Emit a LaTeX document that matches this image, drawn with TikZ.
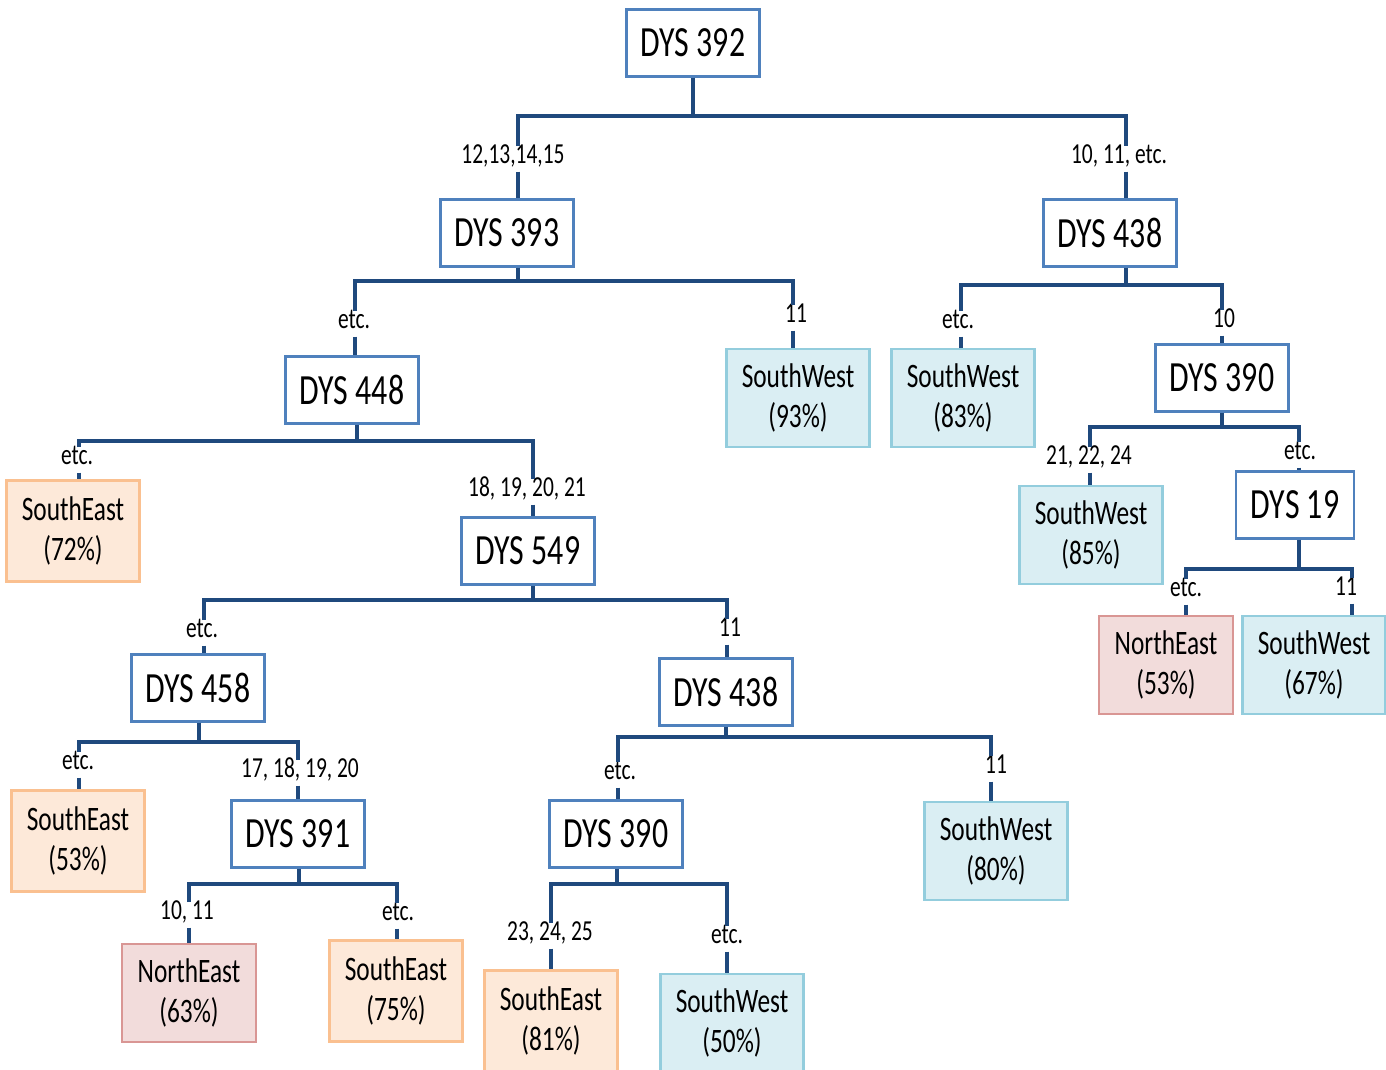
\documentclass[tikz,border=0pt]{standalone}
\usepackage{fontspec}
\setmainfont{Carlito}[FakeStretch=0.74]
\definecolor{linkc}{RGB}{31,73,125}
\definecolor{boxblue}{RGB}{79,129,189}
\definecolor{swfill}{RGB}{218,238,243}
\definecolor{swdraw}{RGB}{147,205,221}
\definecolor{sefill}{RGB}{253,233,217}
\definecolor{sedraw}{RGB}{250,192,144}
\definecolor{nefill}{RGB}{242,220,219}
\definecolor{nedraw}{RGB}{217,150,148}
\tikzset{
  link/.style={draw=linkc, line width=2.2pt, line join=miter},
  dys/.style={draw=boxblue, line width=1.2pt, fill=white, minimum width=2.66cm, minimum height=1.34cm, inner sep=0pt, font=\fontsize{24.5}{29}\selectfont},
  leaf/.style={line width=1.4pt, minimum height=1.96cm, inner sep=0pt, align=center, font=\fontsize{19.5}{22.5}\selectfont},
  sw/.style={leaf, draw=swdraw, fill=swfill, minimum width=2.86cm},
  se/.style={leaf, draw=sedraw, fill=sefill, minimum width=2.66cm, minimum height=2.02cm},
  ne/.style={leaf, draw=nedraw, fill=nefill, minimum width=2.68cm},
  lbl/.style={inner sep=2.5pt, yshift=-2.2pt, text height=0.7em, text depth=0.2em, font=\fontsize{16.5}{18}\selectfont},
}
\newcommand{\treesplit}[9]{%
  \coordinate (#1-L) at (#4,#3);
  \coordinate (#1-R) at (#5,#3);
  \coordinate (#1-S) at (#2,#3);
  \draw[link] (#1.south -| #1-S) -- (#1-S);
  \draw[link] (#1-L |- #6.north) -- (#1-L) -- (#1-R) -- (#1-R |- #8.north);
  \draw[link] (#1-L |- #6.south) -- (#1-L |- #7.north);
  \draw[link] (#1-R |- #8.south) -- (#1-R |- #9.north);
}
\begin{document}
\begin{tikzpicture}[x=0.02cm, y=-0.02cm]
\useasboundingbox[fill=white] (0,0) rectangle (1386,1070);
% nodes
\node[dys] (n392) at (693,43) {DYS 392};
\node[dys] (n393) at (507,233) {DYS 393};
\node[dys] (n438a) at (1110,233) {DYS 438};
\node[dys] (n448) at (352,390) {DYS 448};
\node[sw] (sw93) at (798,398) {SouthWest\\(93\%)};
\node[sw] (sw83) at (963,398) {SouthWest\\(83\%)};
\node[dys] (n390a) at (1222,378) {DYS 390};
\node[se] (se72) at (73,531) {SouthEast\\(72\%)};
\node[dys] (n549) at (528,551) {DYS 549};
\node[sw] (sw85) at (1091,535) {SouthWest\\(85\%)};
\node[dys, minimum width=2.36cm] (n19) at (1295,505) {DYS 19};
\node[dys] (n458) at (198,688) {DYS 458};
\node[dys] (n438b) at (726,692) {DYS 438};
\node[ne] (ne53) at (1166,665) {NorthEast\\(53\%)};
\node[sw] (sw67) at (1314,665) {SouthWest\\(67\%)};
\node[se] (se53) at (78,841) {SouthEast\\(53\%)};
\node[dys] (n391) at (298,834) {DYS 391};
\node[dys] (n390b) at (616,834) {DYS 390};
\node[sw] (sw80) at (996,851) {SouthWest\\(80\%)};
\node[ne] (ne63) at (189,993) {NorthEast\\(63\%)};
\node[se] (se75) at (396,991) {SouthEast\\(75\%)};
\node[se] (se81) at (551,1021) {SouthEast\\(81\%)};
\node[sw] (sw50) at (732,1023) {SouthWest\\(50\%)};
% labels
\node[lbl] (l1a) at (513,155) {12,13,14,15};
\node[lbl] (l1b) at (1119,155) {10, 11, etc.};
\node[lbl] (l2a) at (354,320) {etc.};
\node[lbl] (l2b) at (796,314) {11};
\node[lbl] (l3a) at (958,320) {etc.};
\node[lbl] (l3b) at (1224,319) {10};
\node[lbl] (l4a) at (77,456) {etc.};
\node[lbl] (l4b) at (527,488) {18, 19, 20, 21};
\node[lbl] (l5a) at (1089,456) {21, 22, 24};
\node[lbl] (l5b) at (1300,451) {etc.};
\node[lbl] (l6a) at (202,629) {etc.};
\node[lbl] (l6b) at (730,628) {11};
\node[lbl] (l7a) at (1186,588) {etc.};
\node[lbl] (l7b) at (1346,587) {11};
\node[lbl] (l8a) at (78,761) {etc.};
\node[lbl] (l8b) at (300,769) {17, 18, 19, 20};
\node[lbl] (l9a) at (620,771) {etc.};
\node[lbl] (l9b) at (996,765) {11};
\node[lbl] (l10a) at (187,911) {10, 11};
\node[lbl] (l10b) at (398,912) {etc.};
\node[lbl] (l11a) at (550,932) {23, 24, 25};
\node[lbl] (l11b) at (727,935) {etc.};
% connectors
\treesplit{n392}{693}{116}{518}{1126}{l1a}{n393}{l1b}{n438a}
\treesplit{n393}{518}{281}{355}{793}{l2a}{n448}{l2b}{sw93}
\treesplit{n438a}{1126}{285}{961}{1222}{l3a}{sw83}{l3b}{n390a}
\treesplit{n448}{357}{441}{79}{533}{l4a}{se72}{l4b}{n549}
\treesplit{n390a}{1222}{427}{1090}{1299}{l5a}{sw85}{l5b}{n19}
\treesplit{n549}{533}{600}{204}{727}{l6a}{n458}{l6b}{n438b}
\treesplit{n19}{1299}{569}{1186}{1352}{l7a}{ne53}{l7b}{sw67}
\treesplit{n458}{199}{742}{79}{298}{l8a}{se53}{l8b}{n391}
\treesplit{n438b}{726}{737}{618}{991}{l9a}{n390b}{l9b}{sw80}
\treesplit{n391}{299}{884}{189}{397}{l10a}{ne63}{l10b}{se75}
\treesplit{n390b}{617}{884}{551}{727}{l11a}{se81}{l11b}{sw50}
\end{tikzpicture}
\end{document}
